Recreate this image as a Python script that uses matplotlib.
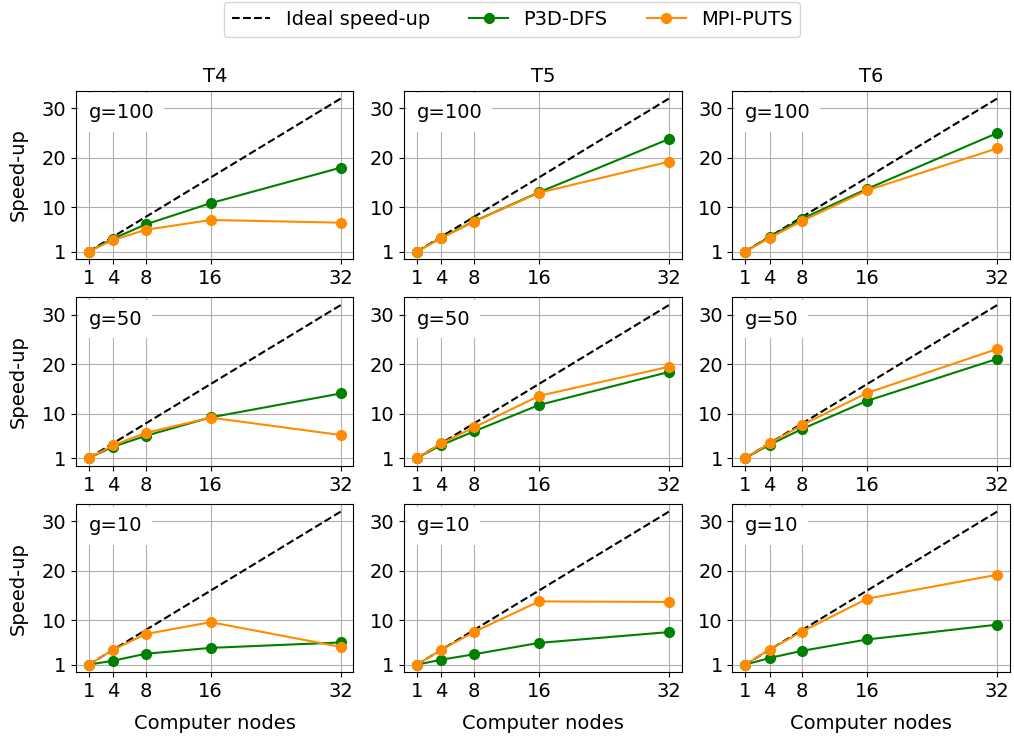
import numpy as np
import matplotlib
matplotlib.use('Agg')
import matplotlib.pyplot as plt

plt.rcParams['font.size'] = 14

# number of computer nodes and the ideal speed-up
nodes = [1, 4, 8, 16, 32]
ideal = [1, 4, 8, 16, 32]

tests = ['T4', 'T5', 'T6']
granularity = [100, 50, 10]

# speed-up values read per row (g) and column (test)
p3d_g100 = {'T4': [1, 3.6, 6.5, 10.8, 18.0],
            'T5': [1, 3.8, 7.1, 13.0, 23.8],
            'T6': [1, 3.95, 7.65, 13.7, 25.0]}
mpi_g100 = {'T4': [1, 3.35, 5.4, 7.4, 6.85],
            'T5': [1, 3.75, 7.05, 12.9, 19.2],
            'T6': [1, 3.75, 7.2, 13.4, 21.9]}

p3d_g50 = {'T4': [1, 3.3, 5.5, 9.25, 14.1],
           'T5': [1, 3.64, 6.4, 11.75, 18.45],
           'T6': [1, 3.7, 6.9, 12.6, 21.1]}
mpi_g50 = {'T4': [1, 3.57, 6.1, 9.2, 5.67],
           'T5': [1, 3.97, 7.2, 13.6, 19.5],
           'T6': [1, 3.97, 7.7, 14.2, 23.1]}

p3d_g10 = {'T4': [1, 1.8, 3.2, 4.4, 5.5],
           'T5': [1, 2.0, 3.1, 5.4, 7.6],
           'T6': [1, 2.35, 3.8, 6.1, 9.1]}
mpi_g10 = {'T4': [1, 4.0, 7.2, 9.6, 4.6],
           'T5': [1, 4.0, 7.6, 13.8, 13.7],
           'T6': [1, 4.05, 7.7, 14.35, 19.2]}

p3d = [p3d_g100, p3d_g50, p3d_g10]
mpi = [mpi_g100, mpi_g50, mpi_g10]

fig, axes = plt.subplots(3, 3, figsize=(10.14, 7.38), dpi=100)
plt.subplots_adjust(left=0.075, right=0.996, top=0.877, bottom=0.089,
                    wspace=0.183, hspace=0.226)

for i, g in enumerate(granularity):
    for j, t in enumerate(tests):
        ax = axes[i, j]
        ax.plot(nodes, ideal, '--', color='black', lw=1.5, label='Ideal speed-up')
        ax.plot(nodes, p3d[i][t], '-o', color='green', lw=1.5, ms=7, label='P3D-DFS')
        ax.plot(nodes, mpi[i][t], '-o', color='darkorange', lw=1.5, ms=7, label='MPI-PUTS')
        ax.set_xticks(nodes)
        ax.set_yticks([1, 10, 20, 30])
        ax.grid(True)
        ax.text(0.045, 0.87, 'g=%d' % g, transform=ax.transAxes, va='center', ha='left',
                bbox=dict(facecolor='white', edgecolor='none', boxstyle='square,pad=0.5'))
        if i == 0:
            ax.set_title(t, fontsize=14)
        if j == 0:
            ax.set_ylabel('Speed-up', labelpad=10)
        if i == 2:
            ax.set_xlabel('Computer nodes', labelpad=9)

handles, labels = axes[0, 0].get_legend_handles_labels()
fig.legend(handles, labels, loc='upper center', bbox_to_anchor=(0.505, 0.997),
           ncol=3, borderaxespad=0, columnspacing=2.0)

plt.savefig('out.png')
